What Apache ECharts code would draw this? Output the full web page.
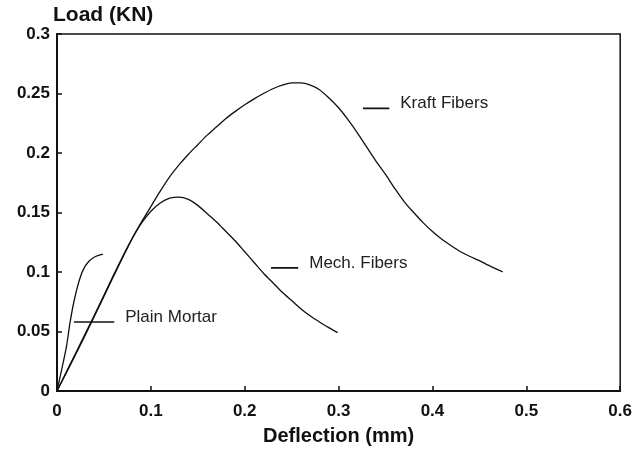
<!DOCTYPE html>
<html>
<head>
<meta charset="utf-8">
<script src="https://cdn.jsdelivr.net/npm/echarts@6/dist/echarts.min.js"></script>
<style>
html, body { margin:0; padding:0; background:#fff; }
#chart { width:635px; height:452px; }
</style>
</head>
<body>
<div id="chart"></div>
<script>

// load-deflection curves [deflection mm, load KN]
const plainMortar = [
    [0,0],[0.005,0.018],[0.010,0.037],[0.014,0.058],[0.018,0.075],
    [0.023,0.091],[0.028,0.102],[0.034,0.109],[0.041,0.113],[0.049,0.115]
];

const mechFibers = [
    [0,0],[0.02,0.032],[0.04,0.064],[0.06,0.097],[0.07,0.113],
    [0.08,0.128],[0.09,0.141],[0.10,0.151],[0.11,0.158],[0.12,0.162],
    [0.13,0.163],[0.14,0.161],[0.15,0.156],[0.16,0.149],[0.17,0.142],
    [0.18,0.134],[0.19,0.126],[0.20,0.117],[0.21,0.108],[0.22,0.099],
    [0.23,0.091],[0.24,0.083],[0.25,0.076],[0.26,0.069],[0.27,0.063],
    [0.28,0.0578],[0.29,0.053],[0.299,0.049]
];

const kraftFibers = [
    [0,0],[0.02,0.031],[0.04,0.063],[0.06,0.096],[0.08,0.128],
    [0.09,0.142],[0.10,0.155],[0.11,0.168],[0.12,0.180],[0.13,0.190],
    [0.14,0.199],[0.15,0.207],[0.16,0.215],[0.17,0.222],[0.18,0.229],
    [0.19,0.235],[0.20,0.2405],[0.21,0.2455],[0.22,0.250],[0.23,0.254],
    [0.24,0.257],[0.25,0.259],[0.26,0.259],[0.27,0.257],[0.28,0.253],
    [0.29,0.246],[0.30,0.238],[0.31,0.228],[0.32,0.217],[0.33,0.205],
    [0.34,0.193],[0.35,0.182],[0.36,0.170],[0.37,0.159],[0.38,0.150],
    [0.39,0.1415],[0.40,0.134],[0.41,0.1275],[0.42,0.122],[0.43,0.117],
    [0.44,0.113],[0.45,0.1095],[0.46,0.1055],[0.475,0.100]
];

// short label dashes next to the curve names
const labelNames = ["Plain Mortar", "Mech. Fibers", "Kraft Fibers"];
const labelDashes = [
    [[0.018,0.058],[0.061,0.058]],
    [[0.228,0.1035],[0.257,0.1035]],
    [[0.326,0.2375],[0.354,0.2375]]
];

const ink = "#111";

function curve(name, data){
    return {
        name:name,
        type:"line",
        data:data,
        smooth:0.3,
        showSymbol:false,
        lineStyle:{ color:ink, width:1.3 },
        z:3
    };
}

function dash(name, data){
    return {
        name:name + " label",
        type:"line",
        data:data,
        showSymbol:false,
        lineStyle:{ color:ink, width:1.6 },
        endLabel:{
            show:true,
            formatter:name,
            distance:11,
            offset:[0,-5],
            color:"#222",
            fontFamily:"Liberation Sans, Arial, sans-serif",
            fontSize:17
        },
        z:3
    };
}

const chart = echarts.init(document.getElementById("chart"));

chart.setOption({
    animation:false,
    grid:{
        left:57,
        right:13,
        top:34,
        bottom:61,
        show:true,
        borderColor:ink,
        borderWidth:1.5
    },
    xAxis:{
        type:"value",
        min:0,
        max:0.6,
        interval:0.1,
        name:"Deflection (mm)",
        nameLocation:"middle",
        nameGap:35,
        nameTextStyle:{
            color:ink,
            fontFamily:"Liberation Sans, Arial, sans-serif",
            fontWeight:"bold",
            fontSize:20
        },
        axisLine:{ lineStyle:{ color:ink, width:2 } },
        axisTick:{ inside:true, length:5, lineStyle:{ color:ink, width:1.5 } },
        axisLabel:{
            color:ink,
            fontFamily:"Liberation Sans, Arial, sans-serif",
            fontWeight:"bold",
            fontSize:17,
            margin:12
        },
        splitLine:{ show:false }
    },
    yAxis:{
        type:"value",
        min:0,
        max:0.3,
        interval:0.05,
        name:"Load (KN)",
        nameLocation:"end",
        nameGap:7,
        nameTextStyle:{
            color:ink,
            fontFamily:"Liberation Sans, Arial, sans-serif",
            fontWeight:"bold",
            fontSize:21,
            align:"left",
            padding:[0,0,0,-4]
        },
        axisLine:{ lineStyle:{ color:ink, width:2 } },
        axisTick:{ inside:true, length:5, lineStyle:{ color:ink, width:1.5 } },
        axisLabel:{
            color:ink,
            fontFamily:"Liberation Sans, Arial, sans-serif",
            fontWeight:"bold",
            fontSize:17,
            margin:7
        },
        splitLine:{ show:false }
    },
    series:[
        curve("Plain Mortar", plainMortar),
        curve("Mech. Fibers", mechFibers),
        curve("Kraft Fibers", kraftFibers),
        dash(labelNames[0], labelDashes[0]),
        dash(labelNames[1], labelDashes[1]),
        dash(labelNames[2], labelDashes[2])
    ]
});

</script>
</body>
</html>
